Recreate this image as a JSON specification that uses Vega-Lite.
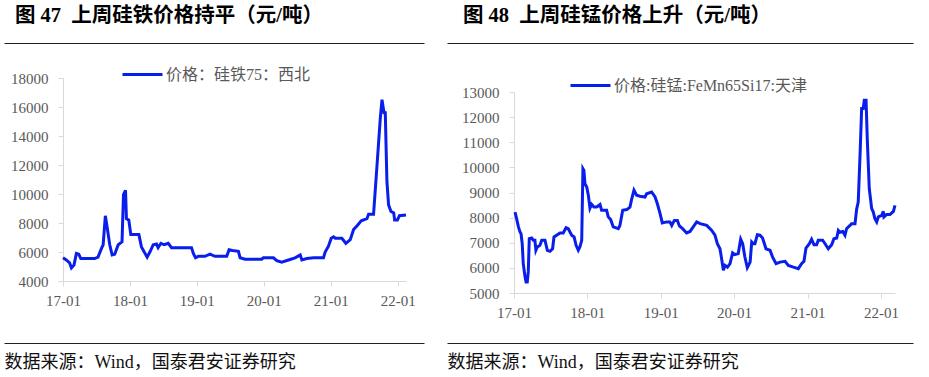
{
  "$schema": "https://vega.github.io/schema/vega-lite/v6.json",
  "background": "white",
  "padding": {"left": 3, "top": 5, "right": 0, "bottom": 0},
  "config": {"view": {"stroke": null}, "font": "Liberation Serif, Noto Sans CJK SC"},
  "datasets": {
    "fesi": [
      {"date": "2017-01-01", "price": 5600}, {"date": "2017-01-19", "price": 5450}, {"date": "2017-02-06", "price": 5250},
      {"date": "2017-02-16", "price": 4900}, {"date": "2017-03-02", "price": 5100}, {"date": "2017-03-15", "price": 5900},
      {"date": "2017-03-28", "price": 5850}, {"date": "2017-04-08", "price": 5550}, {"date": "2017-06-23", "price": 5550},
      {"date": "2017-07-11", "price": 5650}, {"date": "2017-07-30", "price": 6250}, {"date": "2017-08-08", "price": 6500},
      {"date": "2017-08-20", "price": 8500}, {"date": "2017-08-31", "price": 7600}, {"date": "2017-09-13", "price": 6500},
      {"date": "2017-09-26", "price": 5800}, {"date": "2017-10-10", "price": 5850}, {"date": "2017-10-29", "price": 6500},
      {"date": "2017-11-19", "price": 6700}, {"date": "2017-11-27", "price": 9950}, {"date": "2017-12-08", "price": 10250},
      {"date": "2017-12-13", "price": 8300}, {"date": "2017-12-26", "price": 8200}, {"date": "2018-01-06", "price": 7200},
      {"date": "2018-02-19", "price": 7200}, {"date": "2018-03-05", "price": 6350}, {"date": "2018-03-20", "price": 6000},
      {"date": "2018-04-05", "price": 5650}, {"date": "2018-04-20", "price": 6000}, {"date": "2018-05-08", "price": 6500},
      {"date": "2018-05-26", "price": 6550}, {"date": "2018-06-04", "price": 6300}, {"date": "2018-06-19", "price": 6600},
      {"date": "2018-07-07", "price": 6500}, {"date": "2018-07-29", "price": 6600}, {"date": "2018-08-16", "price": 6300},
      {"date": "2018-09-03", "price": 6300}, {"date": "2018-12-03", "price": 6300}, {"date": "2018-12-13", "price": 5900},
      {"date": "2018-12-25", "price": 5600}, {"date": "2019-01-09", "price": 5700}, {"date": "2019-02-14", "price": 5700},
      {"date": "2019-03-14", "price": 5850}, {"date": "2019-04-10", "price": 5700}, {"date": "2019-06-13", "price": 5700},
      {"date": "2019-06-26", "price": 6150}, {"date": "2019-07-14", "price": 6100}, {"date": "2019-08-16", "price": 6050},
      {"date": "2019-08-25", "price": 5600}, {"date": "2019-09-21", "price": 5500}, {"date": "2019-12-21", "price": 5500},
      {"date": "2019-12-30", "price": 5600}, {"date": "2020-02-23", "price": 5600}, {"date": "2020-03-12", "price": 5400},
      {"date": "2020-04-08", "price": 5300}, {"date": "2020-05-15", "price": 5450}, {"date": "2020-06-20", "price": 5600},
      {"date": "2020-07-18", "price": 5800}, {"date": "2020-07-27", "price": 5450}, {"date": "2020-08-23", "price": 5550},
      {"date": "2020-09-29", "price": 5600}, {"date": "2020-11-22", "price": 5600}, {"date": "2020-12-01", "price": 6000},
      {"date": "2020-12-19", "price": 6400}, {"date": "2021-01-03", "price": 6950}, {"date": "2021-01-16", "price": 7050},
      {"date": "2021-01-25", "price": 6950}, {"date": "2021-03-02", "price": 6950}, {"date": "2021-03-24", "price": 6600},
      {"date": "2021-04-17", "price": 6850}, {"date": "2021-05-05", "price": 7550}, {"date": "2021-05-23", "price": 7800},
      {"date": "2021-06-16", "price": 8150}, {"date": "2021-07-17", "price": 8300}, {"date": "2021-07-26", "price": 8600},
      {"date": "2021-08-22", "price": 8600}, {"date": "2021-09-10", "price": 12000}, {"date": "2021-09-28", "price": 15250},
      {"date": "2021-10-07", "price": 16500}, {"date": "2021-10-18", "price": 15600}, {"date": "2021-10-25", "price": 15600},
      {"date": "2021-11-03", "price": 10850}, {"date": "2021-11-12", "price": 9250}, {"date": "2021-11-25", "price": 8800},
      {"date": "2021-12-10", "price": 8700}, {"date": "2021-12-15", "price": 8200}, {"date": "2021-12-30", "price": 8200},
      {"date": "2022-01-10", "price": 8500}, {"date": "2022-02-15", "price": 8550}
    ],
    "simn": [
      {"date": "2017-01-06", "price": 8220}, {"date": "2017-01-14", "price": 7960}, {"date": "2017-01-23", "price": 7630},
      {"date": "2017-01-31", "price": 7430}, {"date": "2017-02-05", "price": 7360}, {"date": "2017-02-11", "price": 6960},
      {"date": "2017-02-16", "price": 6170}, {"date": "2017-02-25", "price": 5640}, {"date": "2017-03-02", "price": 5440},
      {"date": "2017-03-08", "price": 5440}, {"date": "2017-03-13", "price": 5840}, {"date": "2017-03-18", "price": 7160},
      {"date": "2017-03-30", "price": 7190}, {"date": "2017-04-07", "price": 7100}, {"date": "2017-04-15", "price": 7100},
      {"date": "2017-04-20", "price": 6700}, {"date": "2017-04-27", "price": 6830}, {"date": "2017-05-10", "price": 6900},
      {"date": "2017-05-19", "price": 7100}, {"date": "2017-06-04", "price": 7100}, {"date": "2017-06-16", "price": 6700},
      {"date": "2017-06-29", "price": 6660}, {"date": "2017-07-12", "price": 6760}, {"date": "2017-07-19", "price": 7230},
      {"date": "2017-08-01", "price": 7300}, {"date": "2017-08-18", "price": 7390}, {"date": "2017-09-03", "price": 7390},
      {"date": "2017-09-17", "price": 7600}, {"date": "2017-09-28", "price": 7560}, {"date": "2017-10-15", "price": 7300},
      {"date": "2017-10-27", "price": 7230}, {"date": "2017-11-06", "price": 6900}, {"date": "2017-11-17", "price": 6700},
      {"date": "2017-11-25", "price": 6830}, {"date": "2017-12-04", "price": 7100}, {"date": "2017-12-10", "price": 9950},
      {"date": "2017-12-15", "price": 9880}, {"date": "2017-12-20", "price": 9350}, {"date": "2017-12-29", "price": 9220},
      {"date": "2018-01-06", "price": 8890}, {"date": "2018-01-14", "price": 8380}, {"date": "2018-01-22", "price": 8530},
      {"date": "2018-02-03", "price": 8420}, {"date": "2018-02-16", "price": 8420}, {"date": "2018-03-05", "price": 8520},
      {"date": "2018-03-13", "price": 8290}, {"date": "2018-04-07", "price": 8290}, {"date": "2018-04-15", "price": 8030},
      {"date": "2018-04-27", "price": 7920}, {"date": "2018-05-10", "price": 7630}, {"date": "2018-06-04", "price": 7560},
      {"date": "2018-06-12", "price": 7690}, {"date": "2018-06-26", "price": 8290}, {"date": "2018-07-16", "price": 8320},
      {"date": "2018-08-01", "price": 8420}, {"date": "2018-08-10", "price": 8750}, {"date": "2018-08-21", "price": 9090},
      {"date": "2018-09-03", "price": 8890}, {"date": "2018-09-20", "price": 8850}, {"date": "2018-10-15", "price": 8820},
      {"date": "2018-10-23", "price": 8950}, {"date": "2018-11-17", "price": 9020}, {"date": "2018-12-04", "price": 8820},
      {"date": "2018-12-15", "price": 8560}, {"date": "2018-12-29", "price": 8160}, {"date": "2019-01-09", "price": 7790},
      {"date": "2019-01-31", "price": 7830}, {"date": "2019-02-16", "price": 7830}, {"date": "2019-02-25", "price": 7690},
      {"date": "2019-03-10", "price": 7890}, {"date": "2019-03-25", "price": 7890}, {"date": "2019-04-04", "price": 7670},
      {"date": "2019-04-20", "price": 7560}, {"date": "2019-05-10", "price": 7390}, {"date": "2019-05-27", "price": 7450},
      {"date": "2019-06-12", "price": 7630}, {"date": "2019-06-29", "price": 7830}, {"date": "2019-07-16", "price": 7760},
      {"date": "2019-08-18", "price": 7690}, {"date": "2019-09-12", "price": 7490}, {"date": "2019-09-28", "price": 7300},
      {"date": "2019-10-10", "price": 6960}, {"date": "2019-10-23", "price": 6760}, {"date": "2019-10-31", "price": 6370},
      {"date": "2019-11-09", "price": 5900}, {"date": "2019-11-17", "price": 6100}, {"date": "2019-11-29", "price": 6030},
      {"date": "2019-12-12", "price": 6170}, {"date": "2019-12-25", "price": 6600}, {"date": "2020-01-05", "price": 6530},
      {"date": "2020-01-22", "price": 6570}, {"date": "2020-02-03", "price": 7140}, {"date": "2020-02-13", "price": 6960},
      {"date": "2020-02-24", "price": 6430}, {"date": "2020-03-07", "price": 6010}, {"date": "2020-03-21", "price": 6230},
      {"date": "2020-03-29", "price": 7030}, {"date": "2020-04-06", "price": 6960}, {"date": "2020-04-14", "price": 6960},
      {"date": "2020-04-26", "price": 7320}, {"date": "2020-05-09", "price": 7300}, {"date": "2020-05-22", "price": 7190},
      {"date": "2020-06-08", "price": 6760}, {"date": "2020-06-28", "price": 6700}, {"date": "2020-07-11", "price": 6430},
      {"date": "2020-07-28", "price": 6170}, {"date": "2020-08-17", "price": 6230}, {"date": "2020-09-11", "price": 6260},
      {"date": "2020-09-27", "price": 6100}, {"date": "2020-10-22", "price": 6030}, {"date": "2020-11-16", "price": 5970},
      {"date": "2020-12-02", "price": 6170}, {"date": "2020-12-14", "price": 6260}, {"date": "2020-12-24", "price": 6790},
      {"date": "2021-01-10", "price": 6960}, {"date": "2021-01-21", "price": 7140}, {"date": "2021-02-02", "price": 6920},
      {"date": "2021-02-15", "price": 6920}, {"date": "2021-02-23", "price": 7100}, {"date": "2021-03-17", "price": 7100},
      {"date": "2021-03-29", "price": 6960}, {"date": "2021-04-14", "price": 6760}, {"date": "2021-05-01", "price": 6920},
      {"date": "2021-05-12", "price": 7160}, {"date": "2021-05-26", "price": 7190}, {"date": "2021-06-03", "price": 7490},
      {"date": "2021-06-11", "price": 7420}, {"date": "2021-06-25", "price": 7450}, {"date": "2021-07-06", "price": 7300},
      {"date": "2021-07-14", "price": 7560}, {"date": "2021-07-31", "price": 7690}, {"date": "2021-08-08", "price": 7760},
      {"date": "2021-08-25", "price": 7760}, {"date": "2021-09-02", "price": 8330}, {"date": "2021-09-10", "price": 8620},
      {"date": "2021-09-19", "price": 10480}, {"date": "2021-09-27", "price": 12340}, {"date": "2021-10-05", "price": 12340},
      {"date": "2021-10-10", "price": 12670}, {"date": "2021-10-19", "price": 12670}, {"date": "2021-10-25", "price": 11140},
      {"date": "2021-11-04", "price": 9150}, {"date": "2021-11-16", "price": 8360}, {"date": "2021-11-24", "price": 8220},
      {"date": "2021-12-02", "price": 7960}, {"date": "2021-12-11", "price": 7830}, {"date": "2021-12-19", "price": 8030},
      {"date": "2022-01-05", "price": 8090}, {"date": "2022-01-13", "price": 8250}, {"date": "2022-01-16", "price": 8030},
      {"date": "2022-01-29", "price": 8120}, {"date": "2022-02-15", "price": 8120}, {"date": "2022-03-04", "price": 8250},
      {"date": "2022-03-12", "price": 8490}
    ]
  },
  "resolve": {"scale": {"x": "independent", "y": "independent", "color": "independent"}, "legend": {"color": "independent"}},
  "spacing": 21,
  "hconcat": [
    {
      "width": 420,
      "height": 300,
      "view": {"stroke": "#222222", "strokeWidth": 1, "strokeDash": [420, 300]},
      "title": {"text": "图 47\u00a0\u00a0上周硅铁价格持平（元/吨）", "anchor": "start", "dx": 11, "offset": 1, "baseline": "alphabetic", "fontSize": 20.5, "fontWeight": "bold", "font": "Liberation Serif, Noto Sans CJK SC", "color": "#000000"},
      "data": {"name": "fesi"},
      "mark": {"type": "line", "strokeWidth": 3},
      "encoding": {
        "x": {
          "field": "date", "type": "temporal",
          "scale": {"type": "utc", "nice": false, "range": [59, 402],
            "domain": [{"year": 2017, "month": 1, "date": 1, "utc": true}, {"year": 2022, "month": 2, "date": 15, "utc": true}]},
          "axis": {
            "orient": "bottom", "offset": -62, "grid": false, "format": "%y-%m", "labelFlush": false, "labelOverlap": false,
            "values": [{"year": 2017, "month": 1, "date": 1, "utc": true}, {"year": 2018, "month": 1, "date": 1, "utc": true}, {"year": 2019, "month": 1, "date": 1, "utc": true}, {"year": 2020, "month": 1, "date": 1, "utc": true}, {"year": 2021, "month": 1, "date": 1, "utc": true}, {"year": 2022, "month": 1, "date": 1, "utc": true}],
            "domainColor": "#d9d9d9", "tickColor": "#d9d9d9", "tickSize": 5, "labelPadding": 7,
            "labelFont": "Liberation Serif", "labelFontSize": 15, "labelColor": "#595959",
            "title": "数据来源：Wind，国泰君安证券研究", "titleX": 0, "titleY": 86.5, "titleAlign": "left", "titleBaseline": "alphabetic",
            "titleFont": "Liberation Serif, Noto Sans CJK SC", "titleFontSize": 18, "titleFontWeight": "normal", "titleColor": "#111111"
          }
        },
        "y": {
          "field": "price", "type": "quantitative",
          "scale": {"domain": [4000, 18000], "range": [238, 35], "nice": false, "zero": false},
          "axis": {
            "offset": -59, "grid": false, "format": "d", "values": [4000, 6000, 8000, 10000, 12000, 14000, 16000, 18000],
            "domainColor": "#d9d9d9", "tickColor": "#d9d9d9", "tickSize": 5, "labelPadding": 10,
            "labelFont": "Liberation Serif", "labelFontSize": 15, "labelColor": "#595959", "title": null
          }
        },
        "color": {
          "datum": "价格：硅铁75：西北",
          "scale": {"range": ["#0A1EEB"]},
          "legend": {"orient": "none", "legendX": 117, "legendY": 10, "title": null, "padding": 0,
            "symbolType": "stroke", "symbolSize": 1600, "symbolStrokeWidth": 3, "labelOffset": 2, "labelLimit": 400,
            "labelFont": "Liberation Serif, Noto Sans CJK SC", "labelFontSize": 16, "labelColor": "#595959"}
        }
      }
    },
    {
      "width": 466,
      "height": 300,
      "view": {"stroke": "#222222", "strokeWidth": 1, "strokeDash": [466, 300]},
      "title": {"text": "图 48\u00a0\u00a0上周硅锰价格上升（元/吨）", "anchor": "start", "dx": 16, "offset": 1, "baseline": "alphabetic", "fontSize": 20.5, "fontWeight": "bold", "font": "Liberation Serif, Noto Sans CJK SC", "color": "#000000"},
      "data": {"name": "simn"},
      "mark": {"type": "line", "strokeWidth": 3},
      "encoding": {
        "x": {
          "field": "date", "type": "temporal",
          "scale": {"type": "utc", "nice": false, "range": [67, 448],
            "domain": [{"year": 2017, "month": 1, "date": 1, "utc": true}, {"year": 2022, "month": 3, "date": 12, "utc": true}]},
          "axis": {
            "orient": "bottom", "offset": -50, "grid": false, "format": "%y-%m", "labelFlush": false, "labelOverlap": false,
            "values": [{"year": 2017, "month": 1, "date": 1, "utc": true}, {"year": 2018, "month": 1, "date": 1, "utc": true}, {"year": 2019, "month": 1, "date": 1, "utc": true}, {"year": 2020, "month": 1, "date": 1, "utc": true}, {"year": 2021, "month": 1, "date": 1, "utc": true}, {"year": 2022, "month": 1, "date": 1, "utc": true}],
            "domainColor": "#d9d9d9", "tickColor": "#d9d9d9", "tickSize": 5, "labelPadding": 7,
            "labelFont": "Liberation Serif", "labelFontSize": 15, "labelColor": "#595959",
            "title": "数据来源：Wind，国泰君安证券研究", "titleX": 0, "titleY": 74.5, "titleAlign": "left", "titleBaseline": "alphabetic",
            "titleFont": "Liberation Serif, Noto Sans CJK SC", "titleFontSize": 18, "titleFontWeight": "normal", "titleColor": "#111111"
          }
        },
        "y": {
          "field": "price", "type": "quantitative",
          "scale": {"domain": [5000, 13000], "range": [250, 49], "nice": false, "zero": false},
          "axis": {
            "offset": -67, "grid": false, "format": "d", "values": [5000, 6000, 7000, 8000, 9000, 10000, 11000, 12000, 13000],
            "domainColor": "#d9d9d9", "tickColor": "#d9d9d9", "tickSize": 5, "labelPadding": 10,
            "labelFont": "Liberation Serif", "labelFontSize": 15, "labelColor": "#595959", "title": null
          }
        },
        "color": {
          "datum": "价格:硅锰:FeMn65Si17:天津",
          "scale": {"range": ["#0A1EEB"]},
          "legend": {"orient": "none", "legendX": 122, "legendY": 21, "title": null, "padding": 0,
            "symbolType": "stroke", "symbolSize": 1600, "symbolStrokeWidth": 3, "labelOffset": 2, "labelLimit": 400,
            "labelFont": "Liberation Serif, Noto Sans CJK SC", "labelFontSize": 16, "labelColor": "#595959"}
        }
      }
    }
  ]
}
